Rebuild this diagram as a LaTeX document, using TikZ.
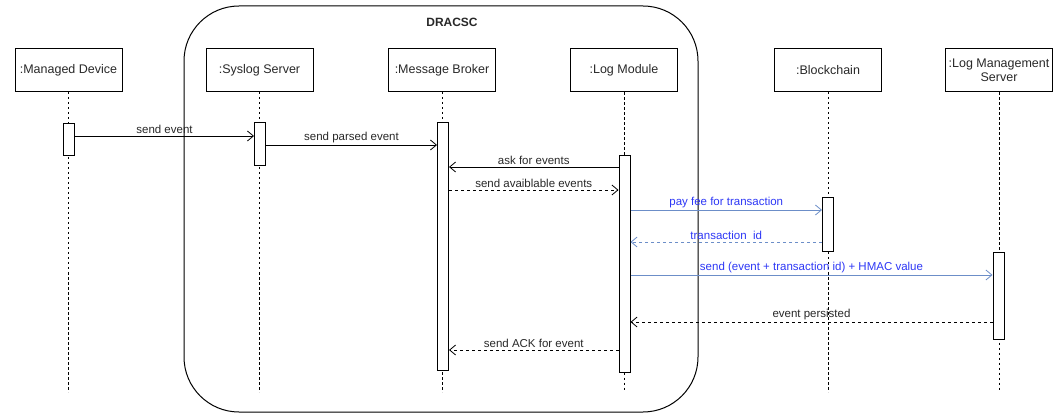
\documentclass[tikz,border=0pt]{standalone}
\usepackage{fontspec}
\setmainfont{Liberation Sans}
\usetikzlibrary{arrows.meta,positioning}

\definecolor{textogris}{RGB}{40,40,40}
\definecolor{lineaazul}{RGB}{108,142,200}
\definecolor{textoazul}{RGB}{45,55,245}

\begin{document}
\begin{tikzpicture}[x=1pt,y=-1pt]

		% Estilos
		\tikzset{
			objeto/.style={
				draw,
				line width=1pt,
				minimum width=107pt,
				minimum height=43pt,
				align=center,
				text=textogris,
				font=\fontsize{12.5}{13.5}\selectfont
			},
			activo/.style={
				draw,
				fill=white,
				line width=1pt,
				minimum width=11pt,
				inner sep=0pt
			},
			vida/.style={
				line width=0.9pt,
				dash pattern=on 2.5pt off 2.5pt
			},
			msg/.style={
				line width=0.8pt,
				-{Straight Barb[length=6pt,width=10pt]}
			},
			resp/.style={
				msg,
				dash pattern=on 3pt off 3pt
			},
			azul/.style={
				draw=lineaazul
			},
			etiq/.style={
				above,
				inner sep=2pt,
				text=textogris,
				font=\fontsize{11.5}{12}\selectfont
			},
			etiqazul/.style={
				etiq,
				text=textoazul
			}
		}

		\useasboundingbox (0,0) rectangle (1063,414);

		% Marco del sistema
		\draw[line width=1pt, rounded corners=55pt] (184,6) rectangle (698,412);
		\node[font=\fontsize{12}{13}\selectfont\bfseries, text=textogris] (sistema) at (452,22) {DRACSC};

		% Objetos
		\node[objeto] (MD) at (68.5,70) {:Managed Device};
		\node[objeto] (SS) at (259.5,70) {:Syslog Server};
		\node[objeto] (MB) at (442,70) {:Message Broker};
		\node[objeto] (LM) at (624,70.5) {:Log Module};
		\node[objeto] (BC) at (828,70) {:Blockchain};
		\node[objeto] (LMS) at (999,70.5) {:Log Management\\Server};

		% Lineas de vida
		\coordinate (fin) at (0,392);
		\foreach \o in {MD,SS,MB,LM,BC,LMS}
			\draw[vida] (\o.south) -- (\o |- fin);

		% Activaciones
		\node[activo, minimum height=32pt] (aMD) at (69,140) {};
		\node[activo, minimum height=43pt] (aSS) at (260,144.5) {};
		\node[activo, minimum height=247pt] (aMB) at (443,246.5) {};
		\node[activo, minimum height=216pt] (aLM) at (624.5,264) {};
		\node[activo, minimum height=54pt] (aBC) at (828,225) {};
		\node[activo, minimum height=86pt] (aLMS) at (998.5,296) {};

		% Niveles de los mensajes
		\coordinate (m1) at (0,136);
		\coordinate (m2) at (0,145);
		\coordinate (m3) at (0,167);
		\coordinate (m4) at (0,190);
		\coordinate (m5) at (0,210);
		\coordinate (m6) at (0,242);
		\coordinate (m7) at (0,275);
		\coordinate (m8) at (0,322);
		\coordinate (m9) at (0,350);

		% Mensajes
		\draw[msg] (aMD.east |- m1) -- node[etiq] {send event} (aSS.west |- m1);
		\draw[msg] (aSS.east |- m2) -- node[etiq] {send parsed event} (aMB.west |- m2);
		\draw[msg] (aLM.west |- m3) -- node[etiq] {ask for events} (aMB.east |- m3);
		\draw[resp] (aMB.east |- m4) -- node[etiq] {send avaiblable events} (aLM.west |- m4);
		\draw[msg, azul] (aLM.east |- m5) -- node[etiqazul] {pay fee for transaction} (aBC.west |- m5);
		\draw[resp, azul] (aBC.west |- m6) -- node[etiqazul] {transaction\ \ id} (aLM.east |- m6);
		\draw[msg, azul] (aLM.east |- m7) -- node[etiqazul] {send (event + transaction id) + HMAC value} (aLMS.west |- m7);
		\draw[resp] (aLMS.west |- m8) -- node[etiq] {event persisted} (aLM.east |- m8);
		\draw[resp] (aLM.west |- m9) -- node[etiq] {send ACK for event} (aMB.east |- m9);

\end{tikzpicture}
\end{document}
